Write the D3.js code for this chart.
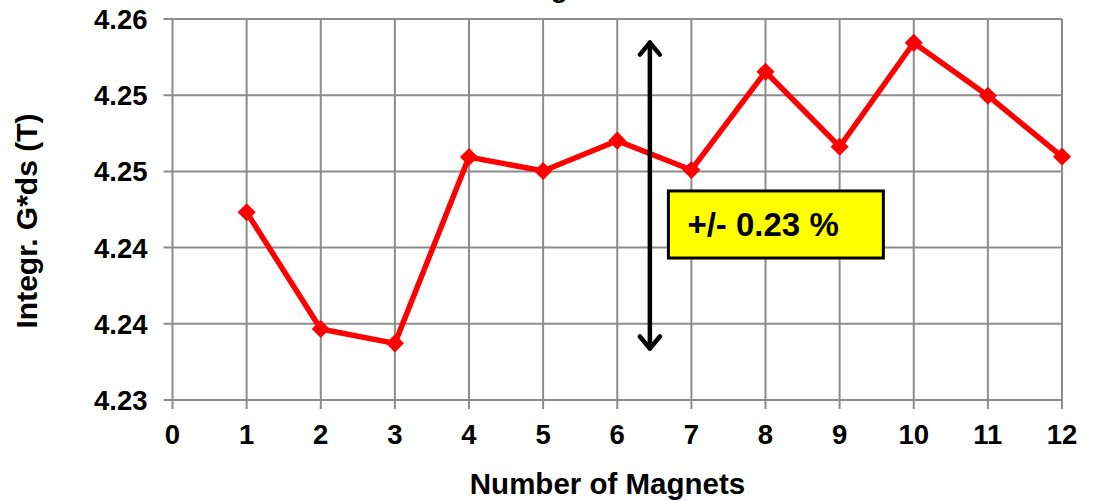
<!DOCTYPE html>
<html>
<head>
<meta charset="utf-8">
<script src="https://cdn.jsdelivr.net/npm/d3@7"></script>
<style>
  html, body { margin: 0; padding: 0; background: #fff; }
  svg { display: block; font-family: "Liberation Sans", Arial, sans-serif; }
</style>
</head>
<body>
<svg id="chart" width="1095" height="501"></svg>
<script>
// Integrated gradient of each magnet in the series
const magnets = [1, 2, 3, 4, 5, 6, 7, 8, 9, 10, 11, 12];
const integralGds = [4.24478, 4.23559, 4.23446, 4.24913, 4.24803, 4.25042,
                     4.24811, 4.25585, 4.24994, 4.25813, 4.25396, 4.24916];

// Axis ticks
const xTicks = [0, 1, 2, 3, 4, 5, 6, 7, 8, 9, 10, 11, 12];
const yTickValues = [4.230, 4.236, 4.242, 4.248, 4.254, 4.260];
const yTickLabels = ["4.23", "4.24", "4.24", "4.25", "4.25", "4.26"];

// Spread annotation
const spreadRange = [4.2339, 4.2583];
const spreadLabel = "+/- 0.23 %";

const titleText = "Integrated Gradient";
const xTitle = "Number of Magnets";
const yTitle = "Integr. G*ds (T)";

const svg = d3.select("#chart");
const W = 1095, H = 501;
const margin = { left: 172.5, right: 33, top: 19, bottom: 101 };

const x = d3.scaleLinear().domain([0, 12]).range([margin.left, W - margin.right]);
const y = d3.scaleLinear().domain([4.23, 4.26]).range([H - margin.bottom, margin.top]);

const gridColor = "#8c8c8c";

// Grid lines
const grid = svg.append("g");
grid.selectAll("line.h").data(yTickValues).join("line")
  .attr("x1", x(0) - 9).attr("x2", x(12))
  .attr("y1", d => y(d)).attr("y2", d => y(d))
  .attr("stroke", gridColor).attr("stroke-width", 2);
grid.selectAll("line.v").data(xTicks).join("line")
  .attr("x1", d => x(d)).attr("x2", d => x(d))
  .attr("y1", y(4.26)).attr("y2", y(4.23) + 9)
  .attr("stroke", gridColor).attr("stroke-width", 2);

// Tick labels
svg.append("g").selectAll("text").data(yTickValues).join("text")
  .attr("x", x(0) - 25)
  .attr("y", d => y(d))
  .attr("dy", "0.36em")
  .attr("text-anchor", "end")
  .attr("font-size", 27.5).attr("font-weight", "bold").attr("fill", "#000")
  .text((d, i) => yTickLabels[i]);

svg.append("g").selectAll("text").data(xTicks).join("text")
  .attr("x", d => x(d))
  .attr("y", y(4.23) + 44)
  .attr("text-anchor", "middle")
  .attr("font-size", 27.5).attr("font-weight", "bold").attr("fill", "#000")
  .text(d => d);

// Axis titles
svg.append("text")
  .attr("x", 607.5).attr("y", 494)
  .attr("text-anchor", "middle")
  .attr("font-size", 29.5).attr("font-weight", "bold")
  .text(xTitle);

svg.append("text")
  .attr("transform", "translate(37,221) rotate(-90)")
  .attr("text-anchor", "middle")
  .attr("font-size", 30).attr("font-weight", "bold")
  .text(yTitle);

// Chart title (mostly above the visible area)
svg.append("text")
  .attr("x", 630).attr("y", -3)
  .attr("text-anchor", "middle")
  .attr("font-size", 28).attr("font-weight", "bold")
  .text(titleText);

// Data series
const pts = magnets.map((m, i) => [m, integralGds[i]]);
const line = d3.line().x(d => x(d[0])).y(d => y(d[1]));
svg.append("path")
  .datum(pts)
  .attr("d", line)
  .attr("fill", "none")
  .attr("stroke", "#ff0000")
  .attr("stroke-width", 5.5)
  .attr("stroke-linejoin", "miter");

const diamond = d3.symbol().type(d3.symbolDiamond2).size(210);
svg.append("g").selectAll("path").data(pts).join("path")
  .attr("transform", d => `translate(${x(d[0])},${y(d[1])})`)
  .attr("d", diamond)
  .attr("fill", "#ff0000");

// Double-headed arrow showing the spread
const ax = x(6.44);
const aTop = y(spreadRange[1]);
const aBot = y(spreadRange[0]);
const arrow = svg.append("g").attr("stroke", "#000").attr("stroke-width", 4.5)
  .attr("fill", "none").attr("stroke-linecap", "round").attr("stroke-linejoin", "round");
arrow.append("line").attr("x1", ax).attr("x2", ax).attr("y1", aTop + 2).attr("y2", aBot - 2);
arrow.append("polyline").attr("points", `${ax - 10},${aTop + 14} ${ax},${aTop + 2} ${ax + 10},${aTop + 14}`);
arrow.append("polyline").attr("points", `${ax - 10},${aBot - 14} ${ax},${aBot - 2} ${ax + 10},${aBot - 14}`);

// Spread label box
const bx0 = x(6.69), bx1 = x(9.59);
const by0 = y(4.24646), by1 = y(4.24118);
svg.append("rect")
  .attr("x", bx0).attr("y", by0)
  .attr("width", bx1 - bx0).attr("height", by1 - by0)
  .attr("fill", "#ffff00").attr("stroke", "#000").attr("stroke-width", 3);
svg.append("text")
  .attr("x", bx0 + 19).attr("y", by0 + 45)
  .attr("font-size", 33).attr("font-weight", "bold")
  .text(spreadLabel);
</script>
</body>
</html>
